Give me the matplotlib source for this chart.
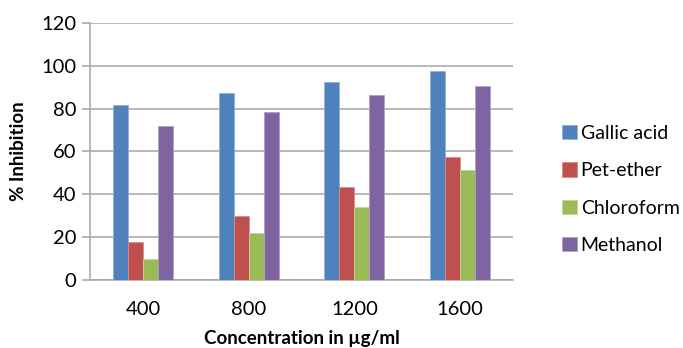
import numpy as np
import matplotlib.pyplot as plt

concentrations = ["400", "800", "1200", "1600"]
gallic_acid = [81.6, 87.4, 92.4, 97.7]
pet_ether = [17.9, 30.0, 43.3, 57.2]
chloroform = [9.7, 21.8, 34.0, 51.3]
methanol = [71.7, 78.6, 86.4, 90.8]

series_names = ["Gallic acid", "Pet-ether", "Chloroform", "Methanol"]
series_colors = ["#4F81BD", "#C0504D", "#9BBB59", "#8064A2"]
edge_colors = ["#8FB0D8", "#D88C8A", "#C2D69B", "#B1A0C7"]

plt.rcParams['font.family'] = ['Lato', 'DejaVu Sans']

fig = plt.figure(figsize=(6.83, 3.48), dpi=100)
ax = fig.add_axes([0.1318, 0.1954, 0.6193, 0.7386])

x = np.arange(len(concentrations))
width = 0.142
all_series = [gallic_acid, pet_ether, chloroform, methanol]
for i, (vals, name) in enumerate(zip(all_series, series_names)):
    ax.bar(x + (i - 1.5) * width, vals, width, color=series_colors[i],
           edgecolor=edge_colors[i], linewidth=0.6, label=name, zorder=3)

ax.set_xlim(-0.5, 3.5)
ax.set_ylim(0, 120)
ax.set_yticks(range(0, 121, 20))
ax.set_xticks(x)
ax.set_xticklabels(concentrations)
ax.grid(axis='y', color='#A6A6A6', linewidth=1.1, zorder=0)
for s in ['top', 'right']:
    ax.spines[s].set_visible(False)
ax.spines['left'].set_color('#A6A6A6')
ax.spines['bottom'].set_color('#A6A6A6')
ax.spines['left'].set_linewidth(1.1)
ax.spines['bottom'].set_linewidth(1.1)
ax.tick_params(axis='y', length=6, width=1.1, color='#A6A6A6', labelsize=14.5, pad=4)
ax.tick_params(axis='x', length=0, labelsize=14.5, pad=15)

ax.set_ylabel('% Inhibition', fontsize=13.5, fontweight='bold', labelpad=10)
ax.set_xlabel('Concentration in µg/ml', fontsize=13.5, fontweight='bold', labelpad=9)

ax.legend(loc='center left', bbox_to_anchor=(1.075, 0.352), frameon=False,
          fontsize=14, handlelength=0.75, handleheight=0.75, handletextpad=0.2,
          labelspacing=1.05)

fig.savefig('out.png', dpi=100)
